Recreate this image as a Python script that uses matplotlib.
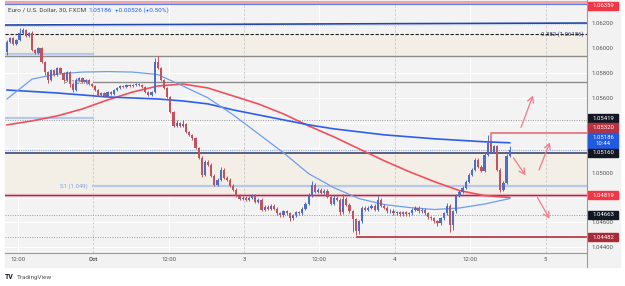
import numpy as np
import matplotlib.pyplot as plt
from matplotlib.patches import Rectangle
from matplotlib.lines import Line2D
from matplotlib.transforms import blended_transform_factory

plt.rcParams["font.family"] = ["Roboto", "DejaVu Sans"]

W, H = 625, 286

# ---- candles (EUR/USD 30m, FXCM) -----------------------------------------
first_open = 1.05968
closes = [
    1.06048, 1.06080, 1.06032, 1.06064, 1.06120, 1.06144, 1.06096, 1.06120, 1.05984, 1.05960,
    1.06000, 1.05888, 1.05808, 1.05744, 1.05824, 1.05784, 1.05840, 1.05800, 1.05744, 1.05808,
    1.05712, 1.05664, 1.05744, 1.05760, 1.05728, 1.05744, 1.05712, 1.05696, 1.05664, 1.05624,
    1.05640, 1.05616, 1.05648, 1.05632, 1.05664, 1.05680, 1.05696, 1.05688, 1.05704, 1.05696,
    1.05704, 1.05712, 1.05704, 1.05688, 1.05648, 1.05624, 1.05648, 1.05888, 1.05840, 1.05744,
    1.05680, 1.05608, 1.05488, 1.05376, 1.05400, 1.05376, 1.05392, 1.05328, 1.05304, 1.05280,
    1.05200, 1.05120, 1.04984, 1.05088, 1.05064, 1.04976, 1.04904, 1.04944, 1.05024, 1.04960,
    1.04944, 1.04896, 1.04864, 1.04816, 1.04792, 1.04800, 1.04784, 1.04800, 1.04816, 1.04768,
    1.04784, 1.04704, 1.04728, 1.04712, 1.04736, 1.04712, 1.04672, 1.04656, 1.04688, 1.04672,
    1.04632, 1.04656, 1.04680, 1.04672, 1.04712, 1.04752, 1.04816, 1.04904, 1.04848, 1.04864,
    1.04840, 1.04856, 1.04808, 1.04752, 1.04800, 1.04784, 1.04680, 1.04792, 1.04744, 1.04688,
    1.04624, 1.04528, 1.04608, 1.04720, 1.04704, 1.04720, 1.04736, 1.04704, 1.04784, 1.04736,
    1.04720, 1.04688, 1.04696, 1.04672, 1.04680, 1.04664, 1.04680, 1.04664, 1.04672, 1.04704,
    1.04720, 1.04688, 1.04704, 1.04672, 1.04640, 1.04632, 1.04608, 1.04592, 1.04632, 1.04672,
    1.04736, 1.04576, 1.04688, 1.04816, 1.04848, 1.04880, 1.04928, 1.04984, 1.05024, 1.05104,
    1.05048, 1.05016, 1.05144, 1.05240, 1.05168, 1.05216, 1.05024, 1.04864, 1.04920, 1.05136,
    1.05186,
]
# wick lengths beyond the body, in pips
wick_up = [
    2, 1, 1, 1, 4, 2, 1, 1, 2, 1, 1, 1, 1, 1, 1, 1, 1, 1, 1, 1,
    1, 1, 2, 1, 1, 1, 1, 1, 1, 1, 1, 1, 1, 1, 1, 1, 1, 1, 1, 1,
    1, 1, 1, 1, 1, 1, 1, 3, 5, 1, 1, 1, 1, 1, 2, 1, 3, 1, 1, 1,
    1, 1, 1, 1, 1, 1, 1, 1, 2, 1, 1, 1, 1, 1, 1, 1, 1, 1, 1, 1,
    1, 1, 1, 1, 1, 1, 1, 1, 1, 1, 1, 1, 1, 1, 1, 1, 2, 3, 1, 1,
    1, 1, 1, 1, 2, 1, 1, 4, 1, 1, 1, 1, 1, 1, 1, 1, 1, 1, 3, 1,
    1, 1, 1, 1, 1, 1, 1, 1, 1, 1, 1, 1, 1, 1, 1, 1, 1, 1, 1, 1,
    2, 1, 1, 1, 1, 1, 1, 1, 1, 1, 1, 1, 1, 6, 1, 1, 1, 1, 1, 1,
    3,
]
wick_dn = [
    2, 1, 1, 1, 1, 1, 1, 1, 1, 1, 1, 1, 2, 2, 1, 1, 1, 1, 1, 1,
    2, 2, 1, 1, 1, 1, 1, 1, 1, 1, 1, 1, 1, 1, 1, 1, 1, 1, 1, 1,
    1, 1, 1, 1, 1, 1, 1, 1, 1, 1, 1, 1, 1, 1, 1, 1, 1, 1, 1, 2,
    1, 1, 2, 1, 1, 1, 1, 1, 1, 1, 1, 1, 1, 1, 1, 1, 1, 1, 1, 1,
    1, 1, 1, 1, 1, 1, 1, 1, 1, 1, 2, 1, 1, 1, 1, 1, 1, 1, 1, 1,
    1, 1, 1, 1, 1, 1, 2, 1, 1, 1, 10, 3, 2, 1, 1, 1, 1, 1, 1, 1,
    1, 1, 1, 1, 1, 1, 1, 1, 1, 1, 1, 1, 1, 1, 1, 1, 1, 2, 1, 1,
    1, 5, 4, 1, 1, 1, 1, 1, 1, 1, 1, 1, 1, 1, 1, 1, 1, 2, 1, 1,
    1,
]

# ---- moving averages, sampled every 8 bars --------------------------------
ma_bars = [0, 8, 16, 24, 32, 40, 48, 56, 64, 72, 80, 88, 96, 104, 112, 120, 128, 136, 144, 152, 160]
ma_fast = [1.05592, 1.05752, 1.05792, 1.05808, 1.05812, 1.05808, 1.05788, 1.05696, 1.05600, 1.05464,
           1.05312, 1.05160, 1.04992, 1.04880, 1.04792, 1.04744, 1.04720, 1.04704, 1.04716, 1.04748, 1.04792]
ma_mid = [1.05664, 1.05652, 1.05640, 1.05624, 1.05608, 1.05600, 1.05592, 1.05576, 1.05552, 1.05504,
          1.05464, 1.05424, 1.05384, 1.05352, 1.05328, 1.05304, 1.05288, 1.05272, 1.05260, 1.05248, 1.05240]
ma_slow = [1.05384, 1.05416, 1.05456, 1.05512, 1.05584, 1.05648, 1.05696, 1.05712, 1.05680, 1.05616,
           1.05552, 1.05472, 1.05376, 1.05288, 1.05192, 1.05096, 1.05008, 1.04928, 1.04856, 1.04816, 1.04800]

# ---- drawn levels -----------------------------------------------------------
top_level = 1.06370
trend_prices = [1.06186, 1.06202]
fib_level = 1.06114
upper_zone = [1.05937, 1.06114]
pivot_p = 1.05728
prev_pivots = [1.05953, 1.05437]
res_level = 1.05419
swing_high = [1.05238, 1.05320]
last_price = 1.05186
support = 1.05160
lower_zone = [1.04819, 1.05160]
s1_level = 1.04895
level_a = 1.04819
level_b = 1.04663
level_c = 1.04482

# scenario arrows: (bar, price) -> (bar, price)
arrows = [
    ((163.3, 1.05343), (167.7, 1.05640)),
    ((160.7, 1.05137), (165.5, 1.04961)),
    ((169.0, 1.05001), (173.1, 1.05263)),
    ((168.4, 1.04820), (173.1, 1.04611)),
]

time_labels = ["12:00", "Oct", "12:00", "3", "12:00", "4", "12:00", "5"]
price_ticks = [1.062, 1.060, 1.058, 1.056, 1.050, 1.046, 1.044]

# price-scale tags: text, centre price, colour
tags = [
    ("1.06359", 1.06339, "#f23645"),
    ("1.05419", 1.05435, "#131722"),
    ("1.05320", 1.05363, "#b7323e"),
    ("1.05186\n10:44", 1.05258, "#1f5ae0"),
    ("1.05160", 1.05161, "#131722"),
    ("1.04819", 1.04819, "#f23645"),
    ("1.04663", 1.04663, "#131722"),
    ("1.04482", 1.04482, "#a92b37"),
]

UP, DN = "#4d6dcc", "#c0545e"

fig = plt.figure(figsize=(W / 100, H / 100), dpi=100)
fig.patch.set_facecolor("white")
fig.add_artist(Rectangle((5 / W, 1 - 267 / H), 615 / W, 267 / H, transform=fig.transFigure,
                         color="#f2f2f2", zorder=-2))
fig.add_artist(Line2D([587 / W, 587 / W], [1 - 267 / H, 1], transform=fig.transFigure,
                      color="#9a9a9a", lw=0.8))

ax = fig.add_axes([5 / W, 1 - 252.7 / H, 582 / W, 252.7 / H])
ax.set_facecolor("#f3f3f3")
x_min, x_max = -0.64, 184.6
ax.set_xlim(x_min, x_max)
ax.set_ylim(1.04357, 1.06387)
for side in ["top", "left", "right"]:
    ax.spines[side].set_visible(False)
ax.spines["bottom"].set_color("#9a9a9a")
ax.spines["bottom"].set_linewidth(0.8)

# grid
for p in np.arange(1.044, 1.0625, 0.002):
    ax.axhline(p, color="white", lw=0.8, zorder=0.5)
tick_pos = [3.4 + 24 * k for k in range(len(time_labels))]
for k, x in enumerate(tick_pos):
    if k % 2 == 0:
        ax.axvline(x, color="white", lw=0.8, zorder=0.5)
    else:
        ax.axvline(x, color="#c8c8c8", lw=0.6, ls=(0, (3, 2)), zorder=1.5)

# zones
ax.axhspan(*upper_zone, color="#f3eee6", zorder=0.8)
ax.axhspan(*lower_zone, color="#f3eee6", zorder=0.8)

# horizontal levels
ax.axhline(top_level, color="#f4a2aa", lw=2.2, zorder=2)
ax.axhline(1.06352, color="#5b7fe0", lw=0.8, zorder=2)
ax.plot([x_min, x_max], trend_prices, color="#2446a8", lw=1.2, zorder=2)
ax.plot([x_min, x_max], [trend_prices[0] - 0.00012, trend_prices[1] - 0.00012],
        color="#b9c8ea", lw=0.7, ls=(0, (1, 1)), zorder=2)
ax.axhline(fib_level, color="#222", lw=0.8, ls=(0, (3, 1.5)), zorder=2)
ax.text(x_max - 1.2, fib_level, "0.382 (1.06186)", fontsize=4.3, color="#2a3760",
        ha="right", va="center", zorder=3)
ax.axhline(upper_zone[0], color="#8c8c8c", lw=1.0, zorder=2)
for p in prev_pivots:
    ax.plot([x_min, tick_pos[1]], [p, p], color="#b4c8f0", lw=1.6, zorder=2)
ax.plot([tick_pos[1], x_max], [pivot_p, pivot_p], color="#8c8c8c", lw=1.0, zorder=2)
ax.text(tick_pos[1] - 1.6, pivot_p, "P (1.057)", fontsize=4.3, color="#555",
        ha="right", va="center", zorder=3)
ax.axhline(res_level, color="#9a9a9a", lw=0.7, ls=(0, (1, 1.5)), zorder=2)
ax.plot([154, 154, x_max], [swing_high[0], swing_high[1], swing_high[1]],
        color="#e4818b", lw=1.4, zorder=2)
ax.axhline(last_price, color="#8eaaea", lw=0.8, ls=(0, (1, 1)), zorder=2)
ax.axhline(support, color="#3e4869", lw=1.2, zorder=2)
ax.plot([tick_pos[1], x_max], [s1_level, s1_level], color="#b4c8f0", lw=1.6, zorder=2)
ax.text(tick_pos[1] - 1.6, s1_level, "S1 (1.049)", fontsize=4.3, color="#7fa3e6",
        ha="right", va="center", zorder=3)
ax.axhline(level_a, color="#f5b9be", lw=2.4, zorder=2)
ax.axhline(level_a, color="#6b3f86", lw=0.9, zorder=2)
ax.axhline(level_b, color="#9a9a9a", lw=0.7, ls=(0, (1, 1.5)), zorder=2)
ax.axhline(level_c, color="#9a9a9a", lw=0.7, ls=(0, (1, 1.5)), zorder=2)
ax.plot([111.4, x_max], [level_c, level_c], color="#b8333e", lw=1.2, zorder=2)

# moving averages
ax.plot(ma_bars, ma_slow, color="#f0505c", lw=1.2, zorder=3)
ax.plot(ma_bars, ma_mid, color="#2f5fe8", lw=1.2, zorder=3)
ax.plot(ma_bars, ma_fast, color="#6d9ef0", lw=0.9, zorder=3)

# candles
c = np.array(closes)
o = np.concatenate([[first_open], c[:-1]])
hi = np.maximum(o, c) + np.array(wick_up) * 1e-4
lo = np.minimum(o, c) - np.array(wick_dn) * 1e-4
idx = np.arange(len(c))
col = np.where(c >= o, UP, DN)
ax.vlines(idx, lo, hi, colors=col, lw=0.7, zorder=4)
ax.bar(idx, np.maximum(np.abs(c - o), 0.00005), bottom=np.minimum(o, c), width=0.7,
       color=col, linewidth=0, zorder=5)

# scenario arrows
for (x0, y0), (x1, y1) in arrows:
    ax.annotate("", xy=(x1, y1), xytext=(x0, y0),
                arrowprops=dict(arrowstyle="->,head_length=0.4,head_width=0.22",
                                color="#f27a86", lw=0.9), zorder=6)

# axes ticks
ax.yaxis.tick_right()
ax.set_yticks(price_ticks)
ax.set_yticklabels([f"{p:.5f}" for p in price_ticks])
ax.tick_params(axis="y", length=0, pad=3.5, labelsize=4.3, labelcolor="#555")
ax.set_xticks(tick_pos)
ax.set_xticklabels(time_labels)
ax.tick_params(axis="x", length=0, pad=3.4, labelsize=4.3, labelcolor="#555")
ax.get_xticklabels()[1].set_fontweight("bold")

# price-scale tags
tr = blended_transform_factory(fig.transFigure, ax.transData)
px = (1.06387 - 1.04357) / 252.7
for text, p, color in tags:
    h = (15.5 if "\n" in text else 8.2) * px
    ax.add_artist(Rectangle((588 / W, p - h / 2), 30 / W, h, transform=tr, color=color,
                            clip_on=False, zorder=7))
    ax.text(603 / W, p, text, transform=tr, ha="center", va="center", fontsize=4.3,
            color="white", linespacing=1.1, clip_on=False, zorder=8)

# header and footer
fig.text(8 / W, 1 - 10 / H, "Euro / U.S. Dollar, 30, FXCM", fontsize=4.6, color="#444", va="center")
fig.text(88 / W, 1 - 10 / H, "1.05186", fontsize=4.6, color="#2962ff", va="center")
fig.text(115 / W, 1 - 10 / H, "+0.00526 (+0.50%)", fontsize=4.6, color="#2962ff", va="center")
fig.text(5 / W, 1 - 277 / H, "TV", fontsize=5, color="#131722", fontweight="bold", va="center")
fig.text(17 / W, 1 - 277 / H, "TradingView", fontsize=4.6, color="#555", va="center")

fig.savefig("out.png", dpi=100, facecolor=fig.get_facecolor())
